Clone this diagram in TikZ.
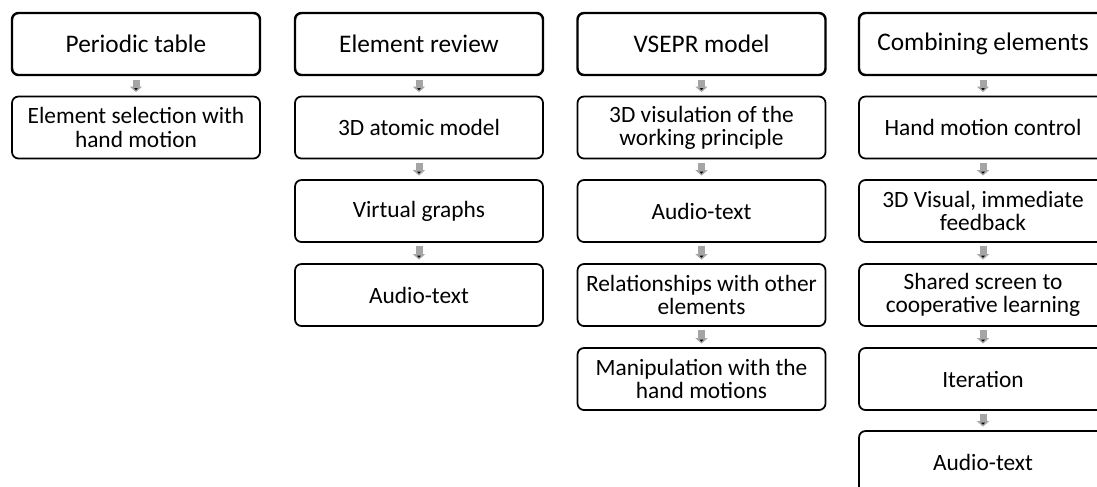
\documentclass[tikz,border=0pt]{standalone}
\usepackage{fontspec}
\setmainfont{Carlito}
\usetikzlibrary{arrows.meta}
\definecolor{arrowgray}{HTML}{A5A5A5}
\tikzset{
  stagebox/.style={draw=black, line width=1.0pt, rounded corners=0.13cm,
    minimum width=4.96cm, minimum height=1.24cm, inner sep=0pt,
    align=center, font=\fontsize{13.3pt}{13.2pt}\selectfont},
  headbox/.style={stagebox, line width=1.4pt, font=\fontsize{14.4pt}{14pt}\selectfont},
  flow/.style={draw=arrowgray, line width=0.14cm, shorten <=0.07cm, shorten >=0.07cm,
    -{Triangle[width=0.24cm, length=0.11cm]}}
}
\begin{document}
\begin{tikzpicture}
      \useasboundingbox (0, 0) rectangle (21.94, -9.72);
      \clip (0, 0) rectangle (21.94, -9.72);
      % headers
      \path (2.72, -0.88) node [headbox] (p1) {Periodic table}
            (8.38, -0.88) node [headbox] (r1) {Element review}
            (14.03, -0.88) node [headbox] (v1) {VSEPR model}
            (19.66, -0.88) node [headbox] (c1) {Combining elements};
      % periodic table
      \path (2.72, -2.55) node [stagebox] (p2) {Element selection with\\hand motion};
      % element review
      \path (8.38, -2.55) node [stagebox] (r2) {3D atomic model}
            (8.38, -4.22) node [stagebox] (r3) {Virtual graphs}
            (8.38, -5.90) node [stagebox] (r4) {Audio-text};
      % vsepr model
      \path (14.03, -2.55) node [stagebox] (v2) {3D visulation of the\\working principle}
            (14.03, -4.22) node [stagebox] (v3) {Audio-text}
            (14.03, -5.90) node [stagebox] (v4) {Relationships with other\\elements}
            (14.03, -7.58) node [stagebox] (v5) {Manipulation with the\\hand motions};
      % combining elements
      \path (19.66, -2.55) node [stagebox] (c2) {Hand motion control}
            (19.66, -4.22) node [stagebox] (c3) {3D Visual, immediate\\feedback}
            (19.66, -5.90) node [stagebox] (c4) {Shared screen to\\cooperative learning}
            (19.66, -7.58) node [stagebox] (c5) {Iteration}
            (19.66, -9.24) node [stagebox] (c6) {Audio-text};
      \path[flow] (p1) edge (p2)
                  (r1) edge (r2) (r2) edge (r3) (r3) edge (r4)
                  (v1) edge (v2) (v2) edge (v3) (v3) edge (v4) (v4) edge (v5)
                  (c1) edge (c2) (c2) edge (c3) (c3) edge (c4) (c4) edge (c5) (c5) edge (c6);
\end{tikzpicture}
\end{document}
